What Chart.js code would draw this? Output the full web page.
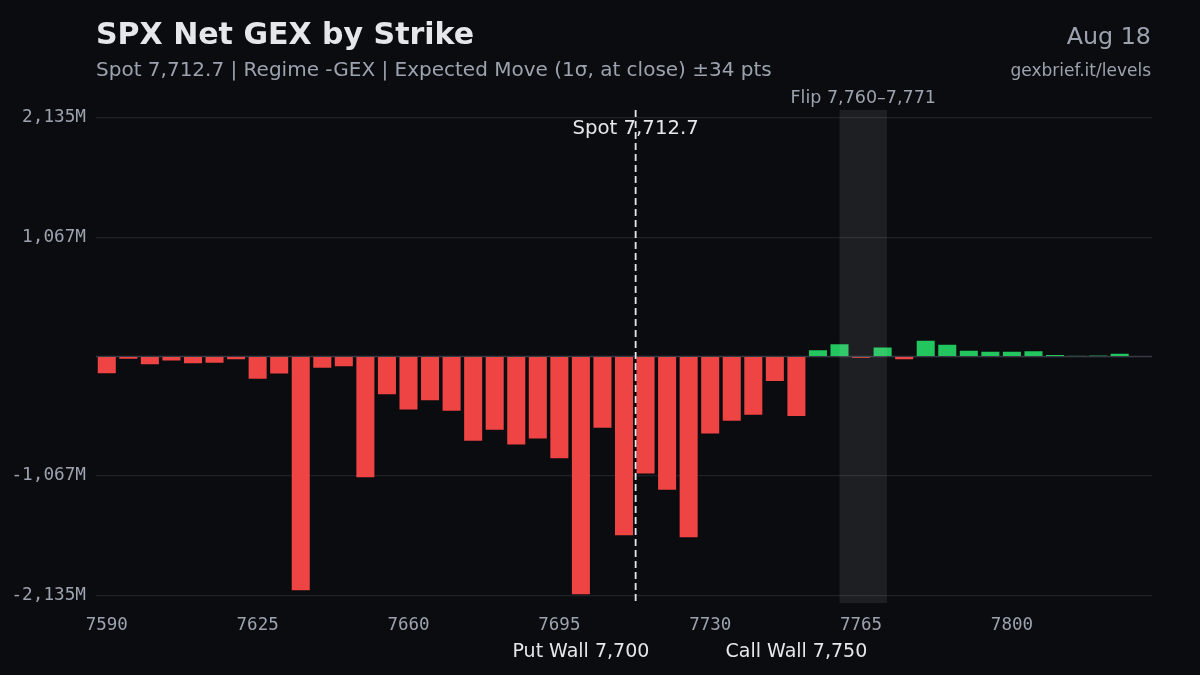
<!DOCTYPE html>
<html>
<head>
<meta charset="utf-8">
<script src="https://cdn.jsdelivr.net/npm/chart.js@4.4.1/dist/chart.umd.min.js"></script>
<style>
  html, body { margin: 0; padding: 0; background: #0b0c10; }
  #wrap { width: 1200px; height: 675px; position: relative; }
</style>
</head>
<body>
<div id="wrap"><canvas id="c" width="1200" height="675"></canvas></div>
<script>
// ---- Data ----
const strikes = [7590,7595,7600,7605,7610,7615,7620,7625,7630,7635,7640,7645,7650,7655,7660,7665,7670,7675,7680,7685,7690,7695,7700,7705,7710,7715,7720,7725,7730,7735,7740,7745,7750,7755,7760,7765,7770,7775,7780,7785,7790,7795,7800,7805,7810,7815,7820,7825,7830];
const netGexM = [-158,-30,-78,-45,-69,-65,-33,-208,-161,-2099,-110,-96,-1088,-346,-482,-399,-494,-762,-664,-795,-741,-918,-2135,-646,-1607,-1055,-1201,-1625,-697,-583,-530,-229,-542,65,119,-15,89,-33,149,113,60,51,51,56,21,9,12,33,5];
const yTickValues = [-2135, -1067, 0, 1067, 2135];
const xTickEvery = 7;
const spot = 7712.7;
const flipRange = [7760, 7771];
const putWall = 7700;
const callWall = 7750;
const titleText = 'SPX Net GEX by Strike';
const subtitleText = 'Spot 7,712.7 | Regime -GEX | Expected Move (1σ, at close) ±34 pts';
const dateText = 'Aug 18';
const siteText = 'gexbrief.it/levels';
const flipText = 'Flip 7,760–7,771';
const spotText = 'Spot 7,712.7';
const putWallText = 'Put Wall 7,700';
const callWallText = 'Call Wall 7,750';

const RED = '#ef4444', GREEN = '#22c55e';
const step = strikes[1] - strikes[0];
function strikeToIndex(s) { return (s - strikes[0]) / step; }

const overlay = {
  id: 'overlay',
  beforeDraw(chart) {
    const ctx = chart.ctx;
    ctx.save();
    ctx.fillStyle = '#0b0c10';
    ctx.fillRect(0, 0, chart.width, chart.height);
    ctx.restore();
  },
  beforeDatasetsDraw(chart) {
    const ctx = chart.ctx, y = chart.scales.y, a = chart.chartArea;
    ctx.save();
    const y0 = y.getPixelForValue(0);
    ctx.strokeStyle = '#363b43';
    ctx.lineWidth = 1.5;
    ctx.beginPath(); ctx.moveTo(a.left, y0); ctx.lineTo(a.right, y0); ctx.stroke();
    ctx.restore();
  },
  afterDatasetsDraw(chart) {
    const ctx = chart.ctx, x = chart.scales.x, a = chart.chartArea;
    ctx.save();
    // flip band
    const fx1 = x.getPixelForValue(strikeToIndex(flipRange[0]));
    const fx2 = x.getPixelForValue(strikeToIndex(flipRange[1]));
    ctx.fillStyle = 'rgba(255,255,255,0.08)';
    ctx.fillRect(fx1, a.top, fx2 - fx1, a.bottom - a.top);
    // spot line
    const sx = x.getPixelForValue(strikeToIndex(spot));
    ctx.strokeStyle = '#e5e7eb';
    ctx.lineWidth = 1.8;
    ctx.setLineDash([7, 4]);
    ctx.beginPath(); ctx.moveTo(sx, a.top); ctx.lineTo(sx, a.bottom); ctx.stroke();
    ctx.setLineDash([]);
    ctx.restore();
  },
  afterDraw(chart) {
    const ctx = chart.ctx, x = chart.scales.x;
    ctx.save();
    ctx.textBaseline = 'alphabetic';
    // title
    ctx.fillStyle = '#e5e7eb';
    ctx.font = 'bold 30px "DejaVu Sans"';
    ctx.textAlign = 'left';
    ctx.fillText(titleText, 96, 44);
    ctx.fillStyle = '#9ca3af';
    ctx.font = '20px "DejaVu Sans"';
    ctx.fillText(subtitleText, 96, 76);
    ctx.textAlign = 'right';
    ctx.font = '23.8px "DejaVu Sans"';
    ctx.fillText(dateText, 1151, 44);
    ctx.font = '17px "DejaVu Sans"';
    ctx.fillText(siteText, 1151, 76);
    // flip label
    const fx1 = x.getPixelForValue(strikeToIndex(flipRange[0]));
    const fx2 = x.getPixelForValue(strikeToIndex(flipRange[1]));
    ctx.textAlign = 'center';
    ctx.font = '17.5px "DejaVu Sans"';
    ctx.fillStyle = '#9ca3af';
    ctx.fillText(flipText, (fx1 + fx2) / 2, 103);
    // spot label
    const sx = x.getPixelForValue(strikeToIndex(spot));
    ctx.fillStyle = '#e5e7eb';
    ctx.font = '19.7px "DejaVu Sans"';
    ctx.fillText(spotText, sx, 134);
    // walls
    ctx.font = '19px "DejaVu Sans"';
    ctx.fillText(putWallText, x.getPixelForValue(strikeToIndex(putWall)), 657);
    ctx.fillText(callWallText, x.getPixelForValue(strikeToIndex(callWall)), 657);
    ctx.restore();
  }
};

new Chart(document.getElementById('c'), {
  type: 'bar',
  data: {
    labels: strikes.map(String),
    datasets: [{
      data: netGexM,
      backgroundColor: netGexM.map(v => v >= 0 ? GREEN : RED),
      borderColor: 'rgba(11,12,16,0.28)',
      borderWidth: 1,
      barPercentage: 0.93,
      categoryPercentage: 1.0
    }]
  },
  options: {
    responsive: false,
    animation: false,
    devicePixelRatio: 1,
    layout: { padding: { top: 110, right: 48, left: 0, bottom: 0 } },
    plugins: { legend: { display: false }, tooltip: { enabled: false } },
    scales: {
      x: {
        type: 'category',
        offset: true,
        grid: { display: false, drawTicks: false },
        border: { display: false },
        ticks: {
          autoSkip: false,
          maxRotation: 0,
          padding: 12,
          color: '#9ca3af',
          font: { family: '"DejaVu Sans Mono"', size: 17.5 },
          callback: function(v, i) { return i % xTickEvery === 0 ? strikes[i] : ''; }
        },
        afterFit(s) { s.height = 72; }
      },
      y: {
        min: -2204,
        max: 2204,
        grid: { color: '#1e2229', lineWidth: 1.2, drawTicks: false },
        border: { display: false },
        afterBuildTicks(s) { s.ticks = yTickValues.map(v => ({ value: v })); },
        ticks: {
          padding: 10,
          color: '#9ca3af',
          font: { family: '"DejaVu Sans Mono"', size: 17.7 },
          callback: function(v) { return v === 0 ? '' : v.toLocaleString('en-US') + 'M'; }
        },
        afterFit(s) { s.width = 96; }
      }
    }
  },
  plugins: [overlay]
});
</script>
</body>
</html>
